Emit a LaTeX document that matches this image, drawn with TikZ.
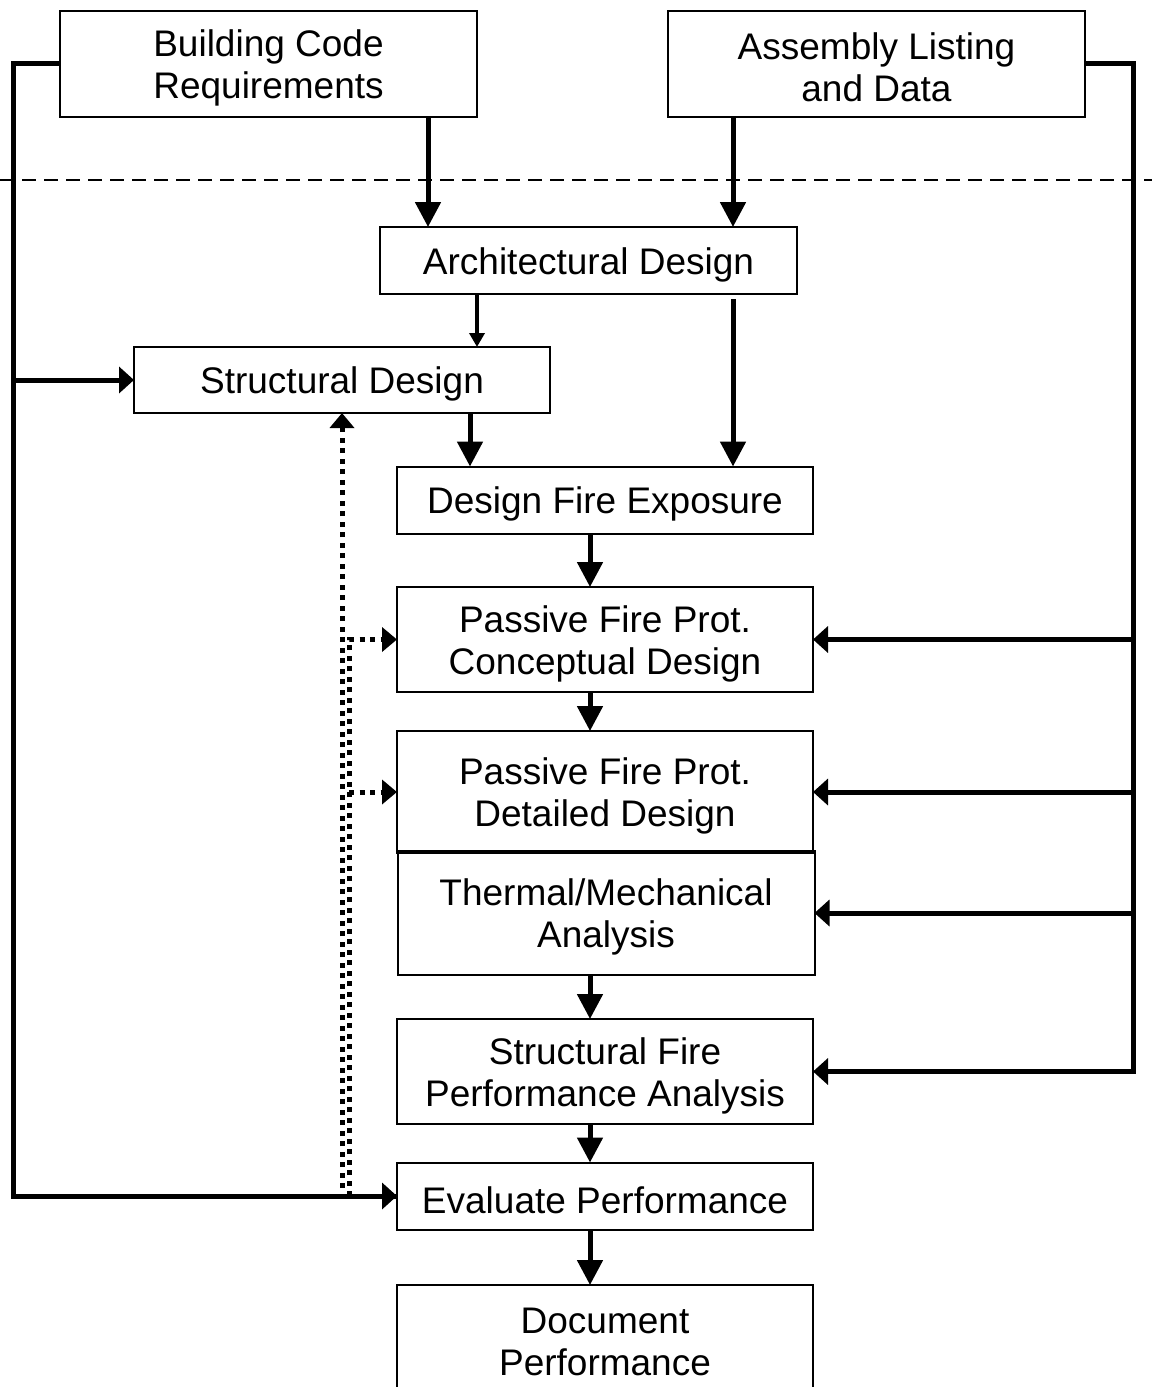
\documentclass[tikz,border=0pt]{standalone}
\usepackage{fontspec}
\setmainfont{Liberation Sans}
\usetikzlibrary{arrows.meta}
\newcommand{\topgap}{\rule{0pt}{35pt}}

\begin{document}
\begin{tikzpicture}[x=1pt,y=-1pt,line cap=butt,
  font=\fontsize{37}{42}\selectfont,
  box/.style={draw,line width=2pt,inner sep=0pt,outer sep=0pt,align=center,minimum width=416pt},
  flow/.style={line width=5pt,-{Triangle[length=25pt,width=25pt]}},
  side/.style={line width=5pt,-{Triangle[length=15pt,width=26pt]}},
  thin/.style={line width=4.5pt,-{Triangle[length=14pt,width=15pt]}},
  back/.style={line width=5pt,dash pattern=on 5pt off 5.5pt,-{Triangle[length=15pt,width=24pt]}}]
\useasboundingbox (0,0) rectangle (1152,1387);
\clip (0,0) rectangle (1152,1387);
\fill[white] (0,0) rectangle (1152,1387);

\node[box,minimum width=417pt,minimum height=106pt] (bcr) at (268.5,63.5) {\topgap Building Code\\Requirements};
\node[box,minimum width=417pt,minimum height=106pt] (asm) at (876.5,63.5) {\topgap Assembly Listing\\and Data};
\node[box,minimum width=417pt,minimum height=67pt] (arch) at (588.5,260.5) {\topgap Architectural Design};
\node[box,minimum height=66pt] (sd) at (342,380) {\topgap Structural Design};
\node[box,minimum height=67pt] (dfe) at (605,500) {\topgap Design Fire Exposure};
\node[box,minimum height=105pt] (pfpc) at (605,639.5) {\topgap Passive Fire Prot.\\Conceptual Design};
\node[box,minimum height=122pt] (pfpd) at (605,792) {\topgap Passive Fire Prot.\\Detailed Design};
\node[box,minimum width=417pt,minimum height=124pt] (tma) at (606,913) {\topgap Thermal/Mechanical\\Analysis};
\node[box,minimum height=105pt] (sfpa) at (605,1071.5) {\topgap Structural Fire\\Performance Analysis};
\node[box,minimum height=67pt] (evp) at (605,1196) {\topgap Evaluate Performance};
\node[box,minimum height=105pt] (doc) at (605,1337.5) {\topgap Document\\Performance};

\coordinate (xa) at (428,0);
\coordinate (xb) at (733,0);
\coordinate (xc) at (477,0);
\coordinate (xd) at (470,0);
\coordinate (xm) at (590,0);
\coordinate (lbus) at (13,0);
\coordinate (rbus) at (1133,0);
\coordinate (dotb) at (349,0);

\draw[line width=1.5pt,dash pattern=on 14pt off 8pt] (0,180) -- (1152,180);

\draw[flow] (bcr.south -| xa) -- (arch.north -| xa);
\draw[flow] (asm.south -| xb) -- (arch.north -| xb);
\draw[thin] (arch.south -| xc) -- (sd.north -| xc);
\draw[flow,shorten <=5pt] (arch.south -| xb) -- (dfe.north -| xb);
\draw[flow] (sd.south -| xd) -- (dfe.north -| xd);
\draw[flow] (dfe.south -| xm) -- (pfpc.north -| xm);
\draw[flow] (pfpc.south -| xm) -- (pfpd.north -| xm);
\draw[flow] (tma.south -| xm) -- (sfpa.north -| xm);
\draw[flow] (sfpa.south -| xm) -- (evp.north -| xm);
\draw[flow] (evp.south -| xm) -- (doc.north -| xm);

\draw[side] (asm.east) -| (sfpa.east -| rbus) -- (sfpa.east);
\draw[side] (pfpc.east -| rbus) -- (pfpc.east);
\draw[side] (pfpd.east -| rbus) -- (pfpd.east);
\draw[side] (tma.east -| rbus) -- (tma.east);

\draw[side] (bcr.west) -| (evp.west -| lbus) -- (evp.west);
\draw[side] (sd.west -| lbus) -- (sd.west);

\draw[back] (evp.west) -| (sd.south);
\draw[back] (evp.west -| dotb) |- (pfpc.west);
\draw[back] (pfpd.west -| dotb) -- (pfpd.west);
\end{tikzpicture}
\end{document}
